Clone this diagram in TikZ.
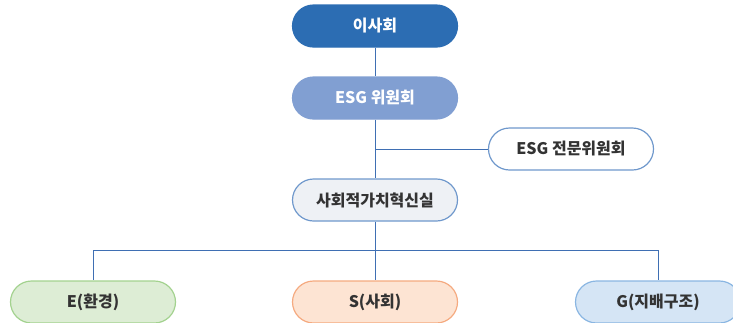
\documentclass[tikz,border=0pt]{standalone}
\usepackage{fontspec}
\setmainfont{Noto Sans CJK KR}
\definecolor{darkblue}{HTML}{2C6DB3}
\definecolor{midblue}{HTML}{819FD2}
\definecolor{linec}{HTML}{3F6FB3}
\definecolor{bordblue}{HTML}{6F98CC}
\definecolor{grayfill}{HTML}{EEF1F5}
\definecolor{greenfill}{HTML}{DDEDD5}
\definecolor{greenbord}{HTML}{A3D28F}
\definecolor{orfill}{HTML}{FDE4D3}
\definecolor{orbord}{HTML}{F5AA80}
\definecolor{bfill}{HTML}{D5E5F5}
\definecolor{bbord}{HTML}{8AB6E2}
\definecolor{txt}{HTML}{333333}
\begin{document}
\begin{tikzpicture}[x=1pt,y=-1pt,
  box/.style={minimum width=165pt,minimum height=42pt,rounded corners=21pt,inner sep=0pt,
    font=\fontsize{16pt}{18pt}\selectfont\bfseries,line width=1.2pt,text=txt},
  conn/.style={draw=linec,line width=0.9pt}]
\useasboundingbox (0,0) rectangle (733,322);
\node[box,fill=darkblue,draw=darkblue,text=white] (board) at (375,26) {이사회};
\node[box,fill=midblue,draw=midblue,text=white] (esg) at (375,98) {ESG 위원회};
\node[box,fill=white,draw=bordblue] (expert) at (571,149) {ESG 전문위원회};
\node[box,fill=grayfill,draw=bordblue] (office) at (375,200) {사회적가치혁신실};
\node[box,fill=greenfill,draw=greenbord] (e) at (93,302) {E(환경)};
\node[box,fill=orfill,draw=orbord] (s) at (375,302) {S(사회)};
\node[box,fill=bfill,draw=bbord] (g) at (658,302) {G(지배구조)};
\coordinate (junc) at (375,149);
\coordinate (split) at (375,250);
\draw[conn] (board) -- (esg);
\draw[conn] (esg) -- (office);
\draw[conn] (junc) -- (expert);
\draw[conn] (office) -- (s);
\draw[conn] (split) -| (e);
\draw[conn] (split) -| (g);
\end{tikzpicture}
\end{document}
